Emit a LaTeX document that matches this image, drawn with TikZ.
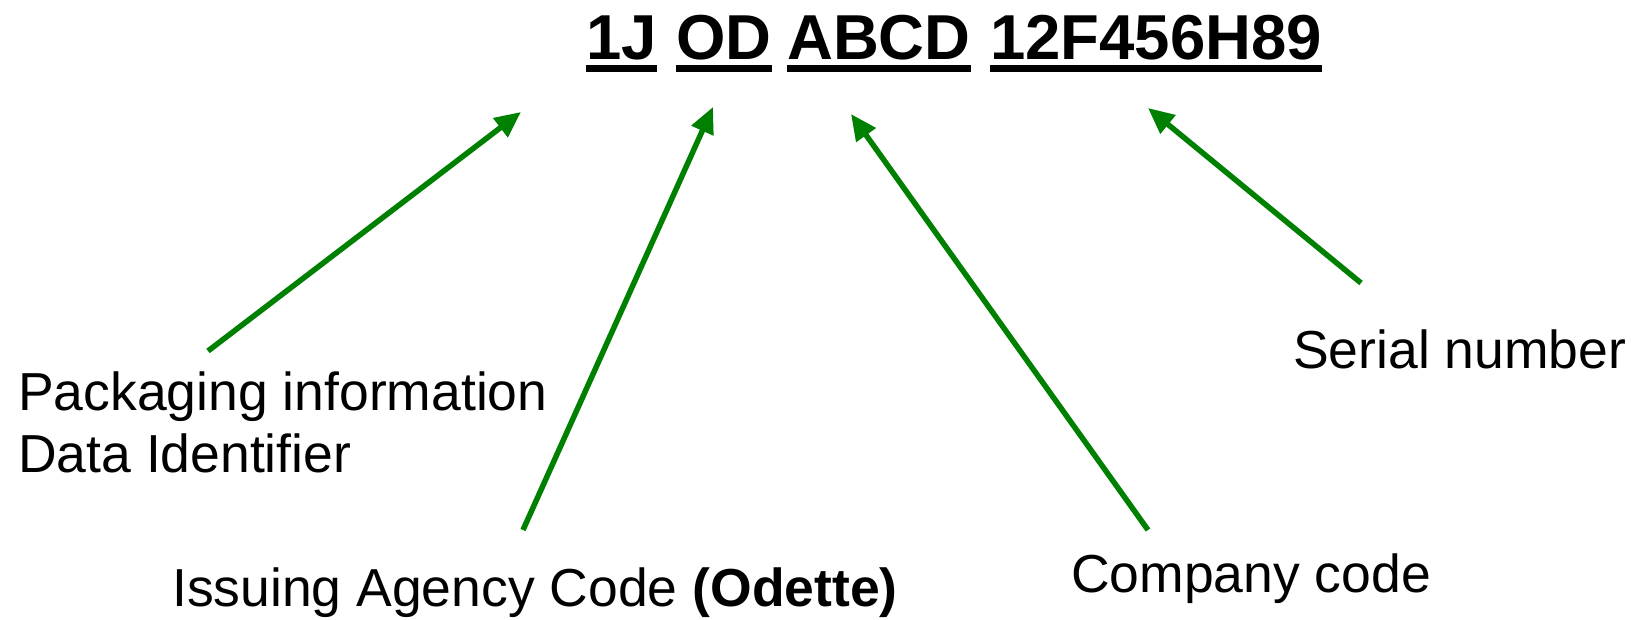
\documentclass[tikz,border=0pt]{standalone}
\usepackage{fontspec}
\setmainfont{Liberation Sans}
\usetikzlibrary{arrows.meta}
\definecolor{arrowgreen}{RGB}{0,128,0}
\begin{document}
\begin{tikzpicture}[x=1pt,y=-1pt,
  code/.style={font=\fontsize{63.5}{70}\selectfont\bfseries, inner sep=0pt, anchor=base west},
  codeline/.style={line width=7pt},
  desc/.style={font=\fontsize{53.5}{62}\selectfont, inner sep=0pt},
  pointer/.style={arrowgreen, line width=5.5pt, -{Triangle[length=26pt,width=23pt]}}]
\useasboundingbox (0,0) rectangle (1631,620);

% the code, one node per field
\node[code] (di)  at (586,60) {1J};
\node[code] (iac) at (676,60) {OD};
\node[code] (cc)  at (787,60) {ABCD};
\node[code] (sn)  at (990,60) {12F456H89};
\foreach \w in {di,iac,cc,sn}
  \draw[codeline] ([yshift=-8.5pt]\w.base west) -- ([yshift=-8.5pt]\w.base east);

% field descriptions
\node[desc, anchor=north west, align=left] (ldi) at (18,372) {Packaging information\\Data Identifier};
\node[desc, anchor=base west] (liac) at (172,606) {Issuing Agency Code \textbf{(Odette)}};
\node[desc, anchor=base west] (lcc)  at (1071,592) {Company code};
\node[desc, anchor=base west] (lsn)  at (1293,369) {Serial number};

% arrow ends
\coordinate (tdi)  at (208,351);
\coordinate (hdi)  at (521,112);
\coordinate (tiac) at (523,530);
\coordinate (hiac) at (713,107);
\coordinate (tcc)  at (1148,530);
\coordinate (hcc)  at (851,114);
\coordinate (tsn)  at (1361,283);
\coordinate (hsn)  at (1148,108);

\draw[pointer] (tdi) -- (hdi);
\draw[pointer] (tiac) -- (hiac);
\draw[pointer] (tcc) -- (hcc);
\draw[pointer] (tsn) -- (hsn);
\end{tikzpicture}
\end{document}
